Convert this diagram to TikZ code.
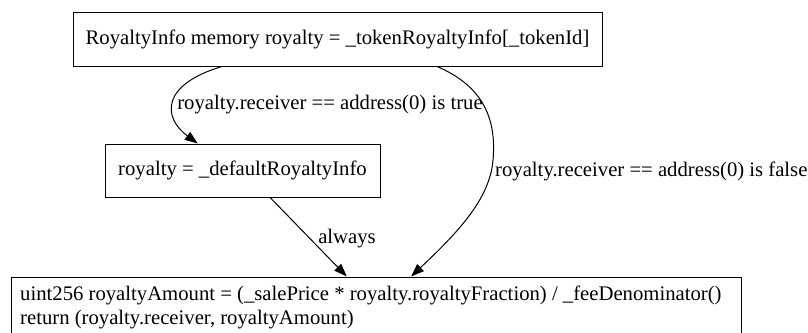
\documentclass[tikz,border=0pt]{standalone}
\usepackage{fontspec}
\setmainfont{Liberation Serif}
\usetikzlibrary{arrows.meta,calc}
\begin{document}
\begin{tikzpicture}[x=1pt,y=-1pt,
  stmt/.style={draw,line width=1pt,inner sep=0pt,font=\fontsize{20.7}{23}\selectfont},
  lbl/.style={font=\fontsize{20.7}{23.3}\selectfont,inner sep=0pt},
  flow/.style={line width=1pt,-{Triangle[length=13pt,width=9.5pt]}}]
\useasboundingbox (0,0) rectangle (808,332);
% statement boxes
\node[stmt,minimum width=529pt,minimum height=54pt] (top) at (337.5,39)
  {RoyaltyInfo memory royalty = \_tokenRoyaltyInfo[\_tokenId]};
\node[stmt,minimum width=275pt,minimum height=53pt] (dflt) at (242.5,170.5)
  {royalty = \_defaultRoyaltyInfo};
% last statement: the box runs past the lower edge of the page
\node[stmt,minimum width=730pt,minimum height=58pt] (ret) at (376,306) {};
\node[lbl,anchor=base west,align=left] (rettext) at (20,324)
  {uint256 royaltyAmount = (\_salePrice * royalty.royaltyFraction) / \_feeDenominator()\\
   return (royalty.receiver, royaltyAmount)};
% attachment points on the box borders
\coordinate (t1) at ($(top.south west)!0.282!(top.south east)$);
\coordinate (t2) at ($(top.south west)!0.688!(top.south east)$);
\coordinate (d1) at ($(dflt.north west)!0.338!(dflt.north east)$);
\coordinate (d2) at ($(dflt.south west)!0.6!(dflt.south east)$);
\coordinate (r1) at ($(ret.north west)!0.46!(ret.north east)$);
\coordinate (r2) at ($(ret.north west)!0.548!(ret.north east)$);
% connectors
\draw[flow] (t1) .. controls (160,85) and (163,118) .. (d1);
\draw[flow] (t2) .. controls (480,85) and (497,115) .. (493,160)
  .. controls (490,200) and (455,235) .. (r2);
\draw[flow] (d2) -- (r1);
% connector labels
\node[lbl] (ltrue) at (330,105) {royalty.receiver == address(0) is true};
\node[lbl,anchor=west] (lfalse) at (495,171) {royalty.receiver == address(0) is false};
\node[lbl] (lalways) at (347,239) {always};
\end{tikzpicture}
\end{document}
